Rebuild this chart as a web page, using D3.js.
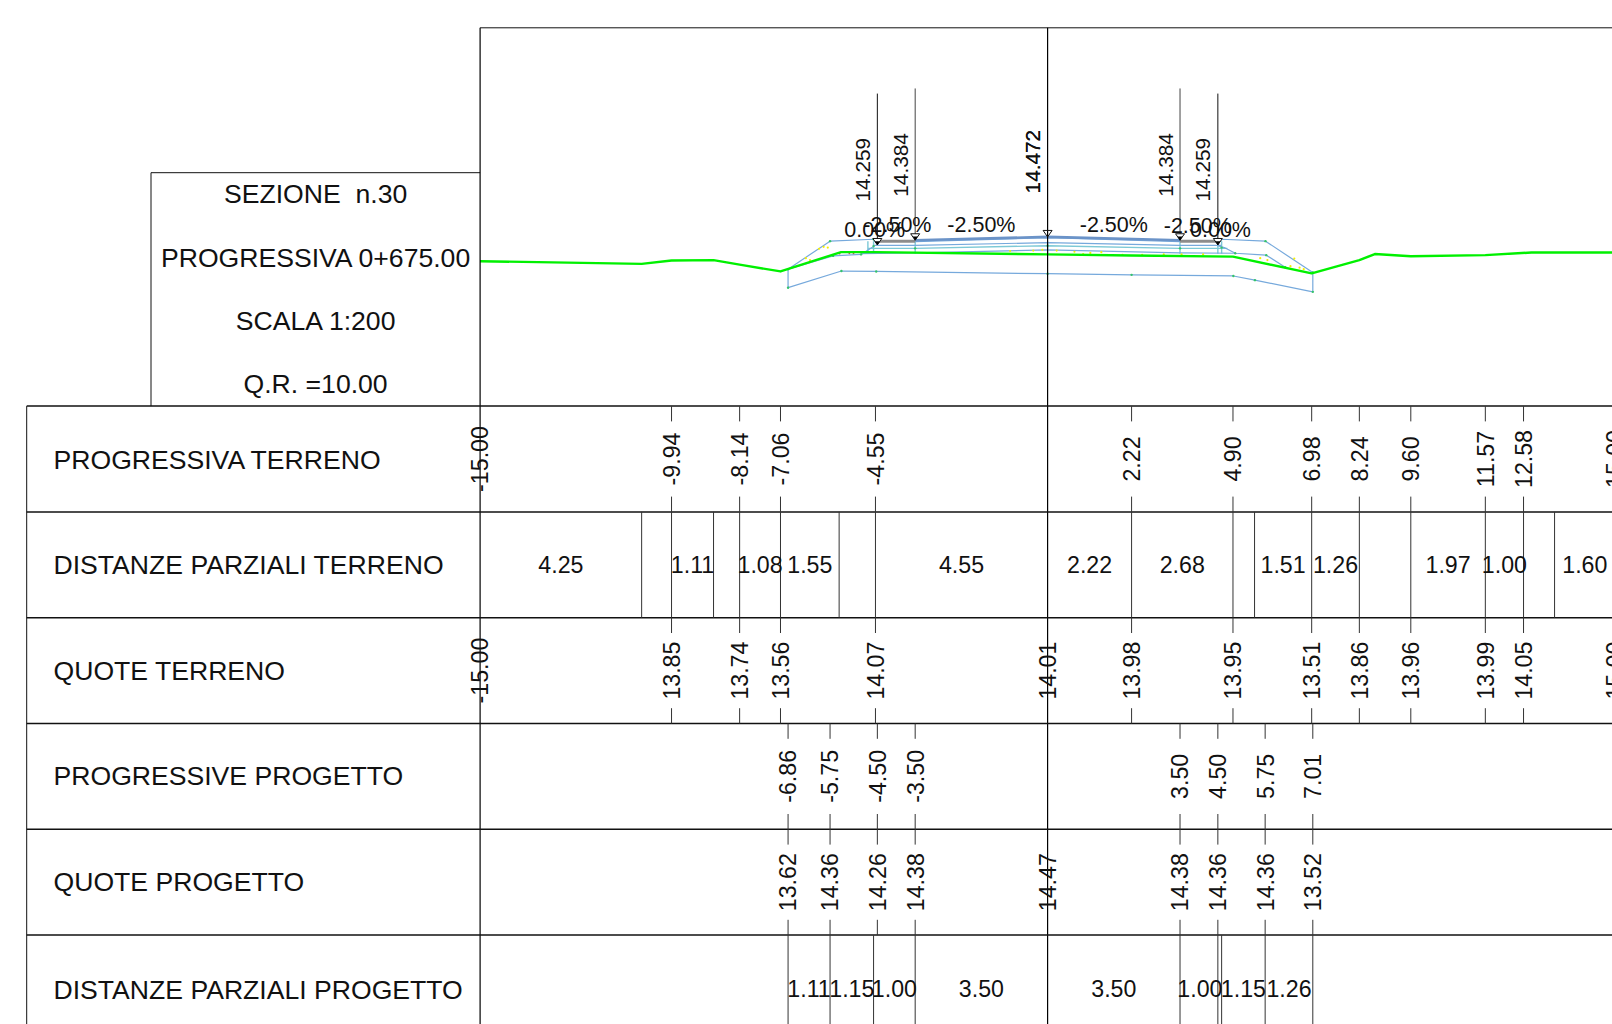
<!DOCTYPE html>
<html><head><meta charset="utf-8">
<script src="https://cdn.jsdelivr.net/npm/d3@7"></script>
<style>html,body{margin:0;padding:0;background:#fff;overflow:hidden}svg{display:block}text{font-family:"Liberation Sans",Arial,sans-serif;fill:#111;white-space:pre}</style>
</head><body><svg id="c" width="1612" height="1024"></svg>
<script>
// ---------- data ----------
const titleLines = ["SEZIONE  n.30","PROGRESSIVA 0+675.00","SCALA 1:200","Q.R. =10.00"];
const rowLabels = ["PROGRESSIVA TERRENO","DISTANZE PARZIALI TERRENO","QUOTE TERRENO","PROGRESSIVE PROGETTO","QUOTE PROGETTO","DISTANZE PARZIALI PROGETTO"];
const terrainStations = [-15,-9.94,-8.14,-7.06,-4.55,0,2.22,4.90,6.98,8.24,9.60,11.57,12.58,15];
const terrainStationLabels = ["-15.00","-9.94","-8.14","-7.06","-4.55","","2.22","4.90","6.98","8.24","9.60","11.57","12.58","15.00"];
const terrainQuoteLabels = ["-15.00","13.85","13.74","13.56","14.07","14.01","13.98","13.95","13.51","13.86","13.96","13.99","14.05","15.00"];
const partialTerrainBreaks = [-10.73,-8.83,-5.51,5.47,13.40];
const partialTerrain = [[-15,-10.73,"4.25"],[-9.94,-8.83,"1.11"],[-8.14,-7.06,"1.08"],[-7.06,-5.51,"1.55"],[-4.55,0,"4.55"],[0,2.22,"2.22"],[2.22,4.90,"2.68"],[5.47,6.98,"1.51"],[6.98,8.24,"1.26"],[9.60,11.57,"1.97"],[11.57,12.58,"1.00"],[13.40,15,"1.60"]];
const designStations = [-6.86,-5.75,-4.50,-3.50,3.50,4.50,5.75,7.01];
const designStationLabels = ["-6.86","-5.75","-4.50","-3.50","3.50","4.50","5.75","7.01"];
const designQuoteStations = [-6.86,-5.75,-4.50,-3.50,0,3.50,4.50,5.75,7.01];
const designQuoteLabels = ["13.62","14.36","14.26","14.38","14.47","14.38","14.36","14.36","13.52"];
const partialDesignLines = [-6.86,-5.75,-4.60,-3.50,3.50,4.50,4.60,5.75,7.01];
const partialDesign = [[-6.86,-5.75,"1.11"],[-5.75,-4.60,"1.15"],[-4.60,-3.50,"1.00"],[-3.50,0,"3.50"],[0,3.50,"3.50"],[3.50,4.55,"1.00"],[4.60,5.75,"1.15"],[5.75,7.01,"1.26"]];
const levelStations = [-4.5,-3.5,0,3.5,4.5];
const levelValues = [14.259,14.384,14.472,14.384,14.259];
const levelLabels = ["14.259","14.384","14.472","14.384","14.259"];
const slopeLabels = [[-4.57,"0.00%",14.68],[-3.97,"-2.50%",14.80],[-1.75,"-2.50%",14.81],[1.75,"-2.50%",14.81],[3.97,"-2.50%",14.79],[4.57,"0.00%",14.68]];
const terrainLine = [[-15,13.83],[-10.73,13.76],[-9.94,13.85],[-8.83,13.86],[-8.14,13.74],[-7.06,13.56],[-5.71,13.99],[-5.46,14.07],[-4.55,14.07],[0,14.01],[2.22,13.98],[4.90,13.95],[6.98,13.51],[8.24,13.86],[8.65,14.02],[9.60,13.96],[11.57,13.99],[12.79,14.06],[15,14.06]];
const outline = [[-6.86,13.62],[-5.75,14.36],[-4.60,14.41],[-4.50,14.30]];
const outlineRight = [[4.50,14.30],[4.60,14.41],[5.76,14.36],[7.01,13.53],[7.01,13.02],[5.48,13.33],[4.91,13.44],[2.22,13.47],[0,13.50],[-4.53,13.56],[-5.45,13.57],[-6.86,13.13],[-6.86,13.62]];
const subLeft = [[-6.86,13.62],[-5.67,13.97],[-4.93,14.01],[-4.58,14.23]];
const subRight = [[4.50,14.24],[4.67,14.19],[4.96,14.04],[5.78,13.99],[6.28,13.67]];
const surface1 = [[-3.5,14.384],[0,14.472],[3.5,14.384]];
const surface2 = [[-3.5,14.35],[0,14.45],[3.5,14.35]];
const layer3 = [[-4.6,14.25],[-3.5,14.25],[0,14.32],[3.5,14.25],[4.6,14.25]];
const layer4 = [[-4.75,14.17],[-3.5,14.17],[0,14.24],[3.5,14.17],[4.75,14.17]];
const layer5 = [[-4.93,14.03],[-3.5,14.05],[0,14.13],[3.5,14.05],[4.96,14.04]];
const shoulders = [[[-4.5,14.36],[-3.5,14.36]],[[3.5,14.36],[4.5,14.36]]];
const tealPosts = [-4.75,-4.6,-3.5,0,3.5,4.5,4.6];
const vertexDots = [[-6.86,13.62],[-5.75,14.36],[-6.86,13.13],[-5.45,13.57],[-4.53,13.56],[0,13.50],[2.22,13.47],[4.91,13.44],[5.48,13.33],[7.01,13.02],[7.01,13.53],[5.76,14.36],[5.78,13.99],[6.28,13.67],[-5.67,13.97],[-4.93,14.01],[-4.6,14.23],[-3.5,14.17],[0,14.24],[3.5,14.17],[4.6,14.19],[4.96,14.04],[-4.6,14.41]];
const yellowDots = [[-6.39,13.91],[-6.28,13.86],[-6.04,14.16],[-5.92,14.21],[-5.81,14.19],[-0.99,14.10],[-0.38,14.11],[-0.14,14.13],[0.24,14.11],[0.71,14.08],[0.94,14.02],[1.13,14.05],[1.42,14.07],[1.98,14.00],[2.5,14.00],[3.07,14.01],[3.54,14.01],[4.11,14.01],[5.62,13.91],[5.81,13.86],[6.42,13.70],[6.66,13.66],[6.77,13.62],[6.52,13.90]];
const redDots = [[-5.5,14.03],[-5.24,14.04],[-5.13,14.04]];

// ---------- layout ----------
const W=1612,H=1024, rowTop=406.1, rowH=105.8, tableLeft=26.7, frameTop=27.8, boxLeft=151, boxTop=172.7, tick=15.3, FS=23.2, LFS=26.6;
const x=d3.scaleLinear().domain([-15,15]).range([480.1,1615.1]);
const y=d3.scaleLinear().domain([10,15]).range([rowTop,rowTop-5*37.83]);
const rowY=i=>rowTop+i*rowH;
const svg=d3.select("#c");
const line=d3.line().x(d=>x(d[0])).y(d=>y(d[1]));
const seg=(g,x1,y1,x2,y2,w=1,c="#222")=>g.append("line").attr("x1",x1).attr("y1",y1).attr("x2",x2).attr("y2",y2).attr("stroke",c).attr("stroke-width",w);
const hText=(cx,cy,s,fs=FS,anchor="middle")=>svg.append("text").attr("x",cx).attr("y",cy).attr("dy","0.36em").attr("text-anchor",anchor).attr("font-size",fs).text(s);
const vText=(cx,cy,s,fs=FS,anchor="middle")=>svg.append("text").attr("transform",`translate(${cx},${cy}) rotate(-90)`).attr("dy","0.36em").attr("text-anchor",anchor).attr("font-size",fs).text(s);

// project section
const poly=(d,c="#76a9dc",w=1.2)=>svg.append("path").attr("d",line(d)).attr("fill","none").attr("stroke",c).attr("stroke-width",w).attr("stroke-linejoin","round");
tealPosts.forEach(s=>seg(svg,x(s),y(14.36),x(s),y(14.03),1.4,"#7cc9d6"));
[surface2,layer3,layer5].forEach(d=>poly(d));
poly(layer4,"#7cc9d6",1.4);
poly(surface1,"#6b93c8",2.6);
poly(outline); poly(outlineRight); poly(subLeft); poly(subRight);
shoulders.forEach(d=>poly(d,"#8c8c8c",3));
svg.selectAll(".yd").data(yellowDots).join("circle").attr("cx",d=>x(d[0])).attr("cy",d=>y(d[1])).attr("r",1.1).attr("fill","#f5f000");
svg.selectAll(".rd").data(redDots).join("circle").attr("cx",d=>x(d[0])).attr("cy",d=>y(d[1])).attr("r",0.9).attr("fill","#d05050");
svg.selectAll(".vd").data(vertexDots).join("circle").attr("cx",d=>x(d[0])).attr("cy",d=>y(d[1])).attr("r",1.2).attr("fill","#35c46a");
poly(terrainLine,"#00f000",2.4);

// frames
seg(svg,x(-15),frameTop,W,frameTop,1,"#111");
seg(svg,boxLeft,boxTop,x(-15),boxTop,1,"#111");
seg(svg,boxLeft,boxTop,boxLeft,rowTop,1,"#111");
seg(svg,tableLeft,rowTop,tableLeft,H,1,"#111");
seg(svg,x(-15),frameTop,x(-15),H,1.2,"#000");
seg(svg,x(0),frameTop,x(0),H,1.2,"#000");
d3.range(0,6).forEach(i=>seg(svg,tableLeft,rowY(i),W,rowY(i),1.5,"#111"));

// title and row labels
[193,257,320,383].forEach((cy,i)=>hText(315.6,cy,titleLines[i],LFS));
[0.3,-0.5,-0.5,-0.5,-1,1].forEach((o,i)=>hText(53.5,rowY(i)+rowH/2+o,rowLabels[i],LFS,"start"));

// terrain rows
terrainStations.forEach(s=>{ if(s===-15||s===0) return;
  seg(svg,x(s),rowY(0),x(s),rowY(0)+tick,1,"#333");
  seg(svg,x(s),rowY(1)-tick,x(s),rowY(2),1,"#333");
  seg(svg,x(s),rowY(2),x(s),rowY(2)+tick,1,"#333");
  seg(svg,x(s),rowY(3)-tick,x(s),rowY(3),1,"#333");
});
partialTerrainBreaks.forEach(s=>seg(svg,x(s),rowY(1),x(s),rowY(2),1,"#333"));
terrainStations.forEach((s,i)=>{
  if(terrainStationLabels[i]) vText(x(s),rowY(0)+rowH/2,terrainStationLabels[i]);
  vText(x(s),rowY(2)+rowH/2,terrainQuoteLabels[i]);
});
partialTerrain.forEach(d=>hText(x((d[0]+d[1])/2),rowY(1)+rowH/2,d[2]));

// design rows
designStations.forEach((s,i)=>{
  seg(svg,x(s),rowY(3),x(s),rowY(3)+tick,1,"#333");
  seg(svg,x(s),rowY(4)-tick,x(s),rowY(4)+tick,1,"#333");
  seg(svg,x(s),rowY(5)-tick,x(s),rowY(5),1,"#333");
  vText(x(s),rowY(3)+rowH/2,designStationLabels[i]);
});
designQuoteStations.forEach((s,i)=>vText(x(s),rowY(4)+rowH/2,designQuoteLabels[i]));
partialDesignLines.forEach(s=>seg(svg,x(s),rowY(5),x(s),H,1,"#333"));
partialDesign.forEach(d=>hText(x((d[0]+d[1])/2),rowY(5)+rowH/2+1,d[2]));

// level markers
levelStations.forEach((s,i)=>{
  const tip=y(levelValues[i]), px=x(s);
  if(s!==0) seg(svg,px,tip-(Math.abs(s)===4.5?151.4:151.8),px,tip,1,Math.abs(s)===3.5?"#444":"#111");
  svg.append("path").attr("d",`M${px-4.5},${tip-6.5}L${px+4.5},${tip-6.5}L${px},${tip}Z`).attr("fill",s===0?"none":"#fff").attr("stroke","#111").attr("stroke-width",1);
  if(s!==0) svg.append("path").attr("d",`M${px-2.6},${tip-3.8}L${px+2.6},${tip-3.8}L${px},${tip}Z`).attr("fill","#000");
  vText(px-15,tip-43.5,levelLabels[i],20.8,"start");
  if(s===0){ vText(px-14.7,tip-43.5,levelLabels[i],20.8,"start"); }
});
slopeLabels.forEach(d=>hText(x(d[0]),y(d[2]),d[1],21.5));
</script></body></html>
